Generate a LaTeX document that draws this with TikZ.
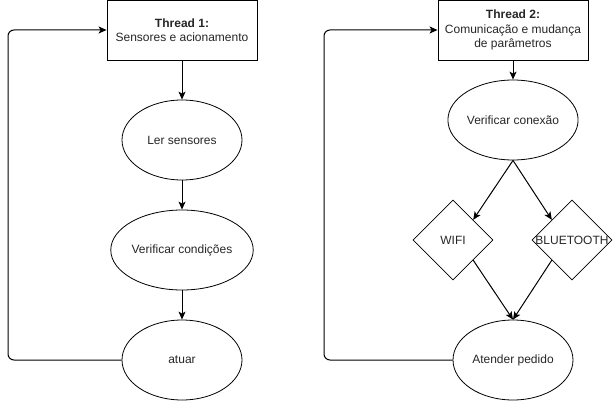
\documentclass[tikz,border=0pt]{standalone}
\usepackage{fontspec}
\setmainfont{Liberation Sans}
\usetikzlibrary{shapes.geometric,arrows.meta}

\begin{document}
\begin{tikzpicture}[x=1pt,y=-1pt,
    font=\fontsize{12pt}{14.5pt}\selectfont, text=black!85,
    box/.style={draw,line width=0.9pt,minimum width=150,minimum height=60,align=center,inner sep=0},
    elli/.style={draw,ellipse,line width=0.8pt,minimum width=120,minimum height=80,inner sep=0},
    dia/.style={draw,diamond,line width=0.8pt,minimum width=80,minimum height=80,inner sep=0},
    seta/.style={line width=1pt,-{Stealth[length=8pt,width=7pt,inset=2pt]}},
    volta/.style={seta,rounded corners=6pt}]
    \useasboundingbox (0,0) rectangle (613,401);
    % thread 1
    \node[box] (t1) at (182,30) {\textbf{Thread 1:}\\Sensores e acionamento};
    \node[elli] (ler) at (182,140) {Ler sensores};
    \node[elli] (cond) at (182,250) {Verificar condições};
    \node[elli] (atuar) at (182,360) {atuar};
    \coordinate (v1) at (8,0);
    \draw[seta] (t1) -- (ler);
    \draw[seta] (ler) -- (cond);
    \draw[seta] (cond) -- (atuar);
    \draw[volta] (atuar.west) -- (atuar.west -| v1) |- (t1.west);
    % thread 2
    \node[box] (t2) at (513,30) {\textbf{Thread 2:}\\Comunicação e mudança\\de parâmetros};
    \node[elli] (conexao) at (513,120) {Verificar conexão};
    \node[dia,label=center:WIFI] (wifi) at (453,240) {};
    \node[dia,label=center:BLUETOOTH] (bt) at (572,240) {};
    \node[elli] (pedido) at (513,360) {Atender pedido};
    \coordinate (v2) at (324,0);
    \draw[seta] (t2) -- (conexao);
    \draw[seta] (conexao.south) -- (wifi.north east);
    \draw[seta] (conexao.south) -- (bt.north west);
    \draw[seta] (wifi.south east) -- (pedido.north);
    \draw[seta] (bt.south west) -- (pedido.north);
    \draw[volta] (pedido.west) -- (pedido.west -| v2) |- (t2.west);
  \end{tikzpicture}
\end{document}
